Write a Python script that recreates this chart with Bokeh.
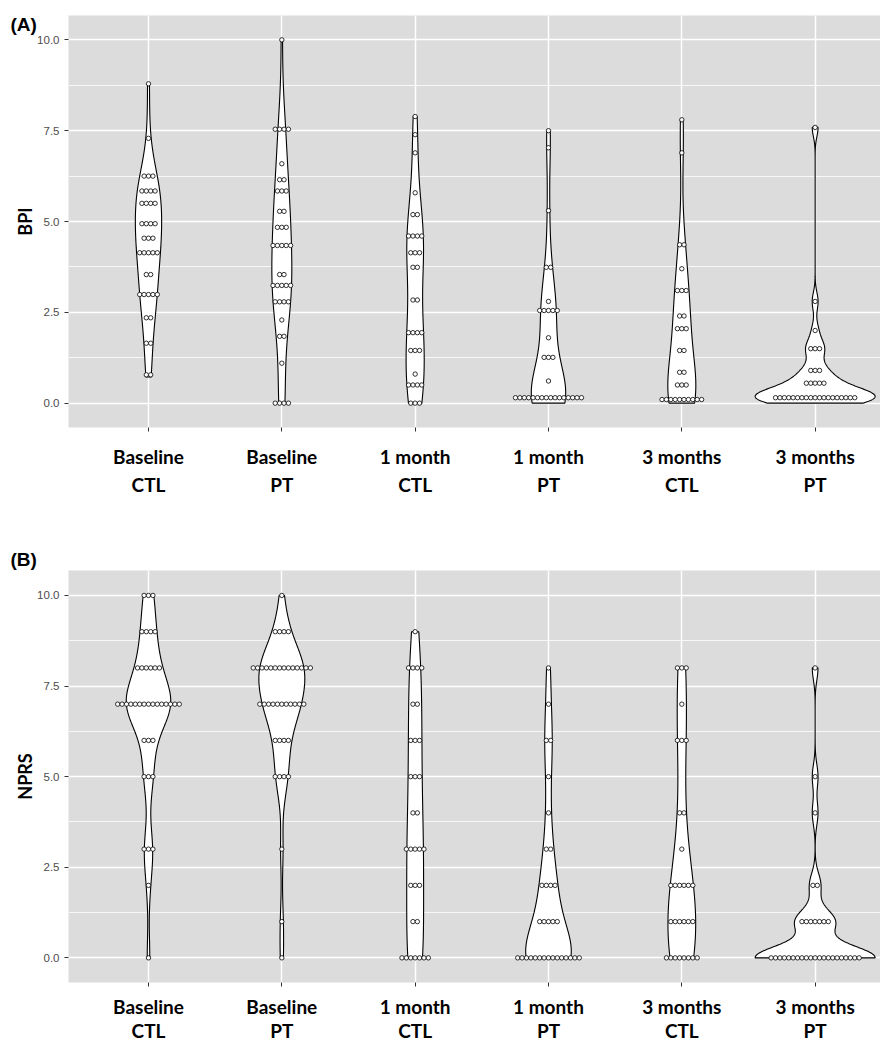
import numpy as np
from bokeh.plotting import figure
from bokeh.models import FixedTicker, SingleIntervalTicker, PrintfTickFormatter
from bokeh.layouts import column
from bokeh.embed import file_html
from bokeh.resources import INLINE

# ---------------- data ----------------
categories = ["Baseline\nCTL", "Baseline\nPT", "1 month\nCTL", "1 month\nPT",
              "3 months\nCTL", "3 months\nPT"]
x_pos = [1, 2, 3, 4, 5, 6]

# BPI: dot rows (bin centre) and number of dots per row
bpi_bl_ctl_v = [8.79, 7.29, 6.25, 5.84, 5.50, 4.94, 4.54, 4.14, 3.54, 2.99, 2.35, 1.65, 0.78]
bpi_bl_ctl_n = [1, 1, 3, 4, 4, 4, 3, 5, 2, 5, 2, 2, 2]
bpi_bl_pt_v = [10.0, 7.54, 6.59, 6.15, 5.84, 5.28, 4.84, 4.34, 3.54, 3.24, 2.79, 2.29, 1.84, 1.10, 0.0]
bpi_bl_pt_n = [1, 4, 1, 2, 3, 2, 3, 5, 2, 5, 4, 1, 2, 1, 4]
bpi_1m_ctl_v = [7.89, 7.39, 6.89, 5.79, 5.19, 4.60, 4.14, 3.74, 2.84, 1.94, 1.45, 0.80, 0.50, 0.0]
bpi_1m_ctl_n = [1, 1, 1, 1, 2, 4, 3, 2, 2, 4, 3, 1, 4, 3]
bpi_1m_pt_v = [7.50, 7.03, 5.30, 3.74, 2.80, 2.55, 1.80, 1.26, 0.61, 0.15]
bpi_1m_pt_n = [1, 1, 1, 2, 1, 5, 1, 3, 1, 16]
bpi_3m_ctl_v = [7.80, 6.89, 4.36, 3.70, 3.10, 2.40, 2.05, 1.45, 0.85, 0.50, 0.10]
bpi_3m_ctl_n = [1, 1, 2, 1, 3, 2, 3, 2, 2, 3, 10]
bpi_3m_pt_v = [7.59, 2.80, 2.00, 1.50, 0.90, 0.55, 0.15]
bpi_3m_pt_n = [1, 1, 1, 3, 3, 5, 19]
# lower end of each BPI violin (lowest raw score)
bpi_low = [0.72, 0.0, 0.0, 0.0, 0.0, 0.0]

# NPRS: integer scores and counts
nprs_bl_ctl_v = [10, 9, 8, 7, 6, 5, 3, 2, 0]
nprs_bl_ctl_n = [3, 4, 6, 15, 3, 3, 3, 1, 1]
nprs_bl_pt_v = [10, 9, 8, 7, 6, 5, 3, 1, 0]
nprs_bl_pt_n = [1, 4, 14, 11, 4, 4, 1, 1, 1]
nprs_1m_ctl_v = [9, 8, 7, 6, 5, 4, 3, 2, 1, 0]
nprs_1m_ctl_n = [1, 4, 2, 3, 3, 2, 5, 3, 2, 7]
nprs_1m_pt_v = [8, 7, 6, 5, 4, 3, 2, 1, 0]
nprs_1m_pt_n = [1, 1, 2, 1, 1, 2, 4, 5, 15]
nprs_3m_ctl_v = [8, 7, 6, 4, 3, 2, 1, 0]
nprs_3m_ctl_n = [3, 1, 3, 2, 1, 6, 6, 8]
nprs_3m_pt_v = [8, 5, 4, 2, 1, 0]
nprs_3m_pt_n = [1, 1, 1, 2, 7, 21]

y_ticks_step = 2.5

# ---------------- layout constants ----------------
FIG_W = 880
BORDER_L = 68
FRAME_W = FIG_W - BORDER_L
PX_X = 133.33          # pixels per category
PX_Y = 36.33           # pixels per y unit
X0 = 0.4
X1 = X0 + FRAME_W / PX_X
DOT_PX = 4.4
BG = "#DCDCDC"


def kde(vals, grid):
    vals = np.asarray(vals, float)
    n = len(vals)
    sd = vals.std(ddof=1)
    q75, q25 = np.percentile(vals, [75, 25])
    lo = min(sd, (q75 - q25) / 1.34)
    if lo <= 0:
        lo = sd
    bw = 0.9 * lo * n ** -0.2
    z = (grid[:, None] - vals[None, :]) / bw
    return np.exp(-0.5 * z ** 2).sum(axis=1) / (n * bw * np.sqrt(2 * np.pi))


def make_panel(vals_list, cnt_list, lows, ylabel, tag, fig_h, top, frame_h,
               y0, tag_standoff, line_h, standoff):
    y1 = y0 + frame_h / PX_Y
    p = figure(width=FIG_W, height=fig_h, x_range=(X0, X1), y_range=(y0, y1),
               output_backend="svg", toolbar_location=None,
               min_border_left=BORDER_L, min_border_right=0,
               min_border_top=top, min_border_bottom=fig_h - top - frame_h)
    p.background_fill_color = BG
    p.border_fill_color = "white"
    p.outline_line_color = None

    groups = [np.repeat(np.asarray(v, float), c) for v, c in zip(vals_list, cnt_list)]
    grids, dens = [], []
    for g, lo in zip(groups, lows):
        ys = np.linspace(lo, g.max(), 512)
        grids.append(ys)
        dens.append(kde(g, ys))
    dmax = max(d.max() for d in dens)
    for i, (ys, d) in enumerate(zip(grids, dens)):
        w = d / dmax * 0.45
        cx = x_pos[i]
        p.patch(np.concatenate([cx - w, (cx + w)[::-1]]),
                np.concatenate([ys, ys[::-1]]),
                fill_color="white", line_color="black", line_width=1.1)

    dx = DOT_PX / PX_X
    xs, ys_ = [], []
    for i, (vals, cnts) in enumerate(zip(vals_list, cnt_list)):
        for v, c in zip(vals, cnts):
            offs = (np.arange(c) - (c - 1) / 2.0) * dx
            xs.extend((x_pos[i] + offs).tolist())
            ys_.extend([v] * c)
    p.scatter(xs, ys_, size=DOT_PX, marker="circle", fill_color="white",
              line_color="black", line_width=0.8)

    # axes
    p.xaxis.ticker = FixedTicker(ticks=x_pos)
    p.xaxis.major_label_overrides = {x: c for x, c in zip(x_pos, categories)}
    p.xaxis.major_label_text_font = "Lato"
    p.xaxis.major_label_text_font_style = "bold"
    p.xaxis.major_label_text_font_size = "19px"
    p.xaxis.major_label_text_color = "black"
    p.xaxis.major_label_text_line_height = line_h
    p.xaxis.major_label_standoff = standoff
    p.xaxis.axis_line_color = None
    p.xaxis.major_tick_line_color = "#333333"
    p.xaxis.major_tick_out = 4
    p.xaxis.major_tick_in = 0
    p.xaxis.minor_tick_line_color = None

    yt = SingleIntervalTicker(interval=y_ticks_step, num_minor_ticks=2)
    p.yaxis.ticker = yt
    p.ygrid.ticker = yt
    p.yaxis.formatter = PrintfTickFormatter(format="%.1f")
    p.yaxis.major_label_text_font = "Liberation Sans"
    p.yaxis.major_label_text_font_size = "11.5px"
    p.yaxis.major_label_text_color = "#4D4D4D"
    p.yaxis.major_label_standoff = 5
    p.yaxis.axis_line_color = None
    p.yaxis.major_tick_line_color = "#333333"
    p.yaxis.major_tick_out = 4
    p.yaxis.major_tick_in = 0
    p.yaxis.minor_tick_line_color = None
    p.yaxis.axis_label = ylabel
    p.yaxis.axis_label_text_font = "Lato"
    p.yaxis.axis_label_text_font_style = "bold"
    p.yaxis.axis_label_text_font_size = "18px"
    p.yaxis.axis_label_text_color = "black"
    try:
        p.yaxis.axis_label_standoff = -2
    except Exception:
        p.yaxis.axis_label_standoff = 0

    p.xgrid.grid_line_color = "white"
    p.xgrid.grid_line_width = 1.5
    p.ygrid.grid_line_color = "white"
    p.ygrid.grid_line_width = 1.5
    p.ygrid.minor_grid_line_color = "white"
    p.ygrid.minor_grid_line_width = 0.8

    # panel tag as title, pulled to the left margin
    p.title.text = tag
    p.title.align = "left"
    p.title.offset = 10 - BORDER_L
    p.title.text_font = "Liberation Sans"
    p.title.text_font_style = "bold"
    p.title.text_font_size = "19px"
    p.title.text_color = "black"
    try:
        p.title.standoff = tag_standoff
    except Exception:
        p.title.standoff = 0
    return p


pA = make_panel(
    [bpi_bl_ctl_v, bpi_bl_pt_v, bpi_1m_ctl_v, bpi_1m_pt_v, bpi_3m_ctl_v, bpi_3m_pt_v],
    [bpi_bl_ctl_n, bpi_bl_pt_n, bpi_1m_ctl_n, bpi_1m_pt_n, bpi_3m_ctl_n, bpi_3m_pt_n],
    bpi_low, "BPI", "(A)", fig_h=540, top=15, frame_h=412, y0=-0.67,
    tag_standoff=-38, line_h=1.23, standoff=13)

nprs_all_v = [nprs_bl_ctl_v, nprs_bl_pt_v, nprs_1m_ctl_v, nprs_1m_pt_v, nprs_3m_ctl_v, nprs_3m_pt_v]
pB = make_panel(
    nprs_all_v,
    [nprs_bl_ctl_n, nprs_bl_pt_n, nprs_1m_ctl_n, nprs_1m_pt_n, nprs_3m_ctl_n, nprs_3m_pt_n],
    [min(v) for v in nprs_all_v], "NPRS", "(B)", fig_h=504, top=30, frame_h=413,
    y0=-0.68, tag_standoff=2, line_h=1.05, standoff=8)

layout = column(pA, pB, spacing=0)
open("out.html", "w").write(file_html(layout, INLINE))
